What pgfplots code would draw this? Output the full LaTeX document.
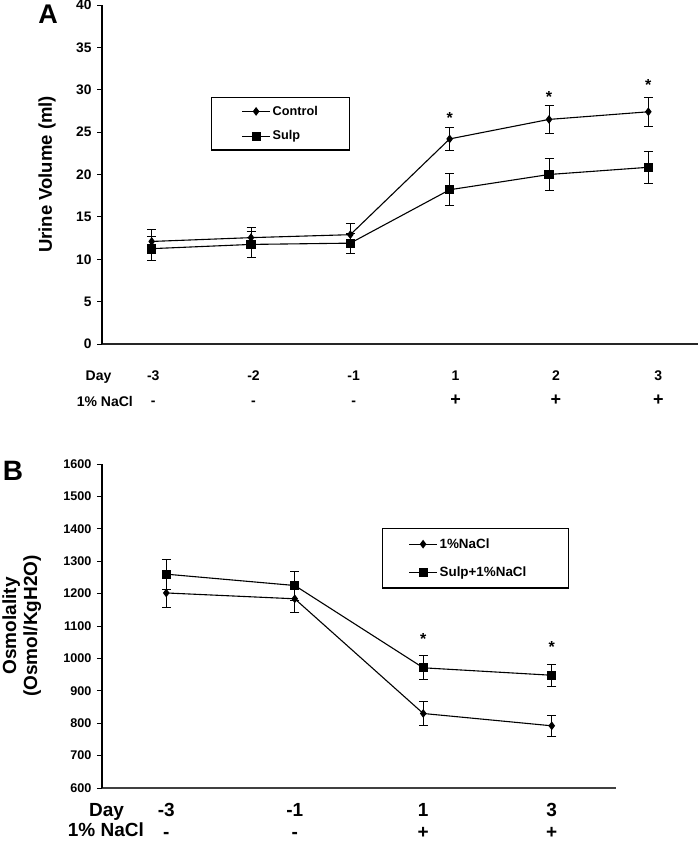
\documentclass[border=0pt]{standalone}
\usepackage{pgfplots}
\pgfplotsset{compat=1.18}
\usepackage{pgfplotstable}
\usepackage{fontspec}
\setmainfont{Liberation Sans}

% panel A: urine volume (ml), x = 0..5 for days -3,-2,-1,1,2,3
\pgfplotstableread{
x y e
0 12.10 1.40
1 12.55 1.20
2 12.90 1.30
3 24.20 1.40
4 26.50 1.70
5 27.40 1.75
}\ctrlA
\pgfplotstableread{
x y e
0 11.25 1.40
1 11.75 1.50
2 11.90 1.20
3 18.20 1.90
4 20.00 1.85
5 20.85 1.85
}\sulpA
% panel B: osmolality, x = 0..3 for days -3,-1,1,3
\pgfplotstableread{
x y e
0 1202 45
1 1184 43
2 830 37
3 792 33
}\naclB
\pgfplotstableread{
x y e
0 1260 47
1 1225 45
2 971 37
3 948 33
}\sulpB

\newcommand{\pl}{{\fontsize{18}{18}\selectfont +}}

\pgfplotsset{
  panel/.style={
    scale only axis,
    axis lines*=left,
    tick align=outside,
    major tick length=5pt,
    xtick style={draw=none},
    ytick style={black, line width=0.9pt},
    /pgf/number format/assume math mode=true,
    /pgf/number format/1000 sep={},
    clip=false,
    legend cell align=left,
    legend image code/.code={
      \draw[mark repeat=2,mark phase=2,##1] plot coordinates {(0pt,0pt) (14pt,0pt) (28pt,0pt)};},
  },
  ctrl/.style={black, line width=1.1pt, mark=diamond*, mark size=3.5pt, mark options={solid},
    error bars/y dir=both, error bars/y explicit,
    error bars/error bar style={line width=0.8pt},
    error bars/error mark options={rotate=90, mark size=4.5pt, line width=0.8pt}},
  sulp/.style={black, line width=1.1pt, mark=square*, mark size=4pt, mark options={solid},
    error bars/y dir=both, error bars/y explicit,
    error bars/error bar style={line width=0.8pt},
    error bars/error mark options={rotate=90, mark size=4.5pt, line width=0.8pt}},
}

\begin{document}
\begin{tikzpicture}
\useasboundingbox (0pt,0pt) rectangle (698pt,-842pt);

\begin{axis}[panel,
  at={(102pt,-344pt)}, anchor=south west,
  width=596pt, height=339pt,
  xmin=-0.5, xmax=5.5, ymin=0, ymax=40,
  ytick={0,5,...,40},
  xtick={0.016,1.025,2.034,3.06,4.07,5.1},
  xticklabels={{-3\\-},{-2\\-},{-1\\-},{1\\\pl},{2\\\pl},{3\\\pl}},
  xticklabel style={font=\fontsize{14}{25}\selectfont\bfseries, align=center, yshift=-18.5pt},
  yticklabel style={font=\fontsize{13.8}{16}\selectfont\bfseries, xshift=-2pt},
  x axis line style={line width=2pt, black!85},
  y axis line style={line width=1.3pt},
  ylabel={Urine Volume (ml)},
  ylabel style={font=\fontsize{18.5}{22}\selectfont\bfseries, at={(axis description cs:-0.0923,0.5)}, anchor=center},
  legend style={at={(0.1829,0.7286)}, anchor=north west, draw=black, line width=1.1pt,
    font=\fontsize{12.7}{15}\selectfont\bfseries, inner xsep=30pt, inner ysep=6.5pt, row sep=10pt},
]
\addplot[ctrl] table[x=x, y=y, y error=e] {\ctrlA};
\addlegendentry{Control}
\addplot[sulp] table[x=x, y=y, y error=e] {\sulpA};
\addlegendentry{Sulp}
\node[font=\fontsize{16}{18}\selectfont\bfseries] at (axis cs:3,26.65) {*};
\node[font=\fontsize{16}{18}\selectfont\bfseries] at (axis cs:4,29.15) {*};
\node[font=\fontsize{16}{18}\selectfont\bfseries] at (axis cs:5,30.6) {*};
\end{axis}

\begin{axis}[panel,
  at={(102pt,-788pt)}, anchor=south west,
  width=514pt, height=324pt,
  xmin=-0.5, xmax=3.5, ymin=600, ymax=1600,
  ytick={600,700,...,1600},
  xtick={0,...,3},
  xticklabels={{-3\\-},{-1\\-},{1\\+},{3\\+}},
  xticklabel style={font=\fontsize{19}{22}\selectfont\bfseries, align=center, inner ysep=0pt, yshift=-10pt},
  yticklabel style={font=\fontsize{12.6}{16}\selectfont\bfseries, xshift=-2pt},
  x axis line style={line width=1.2pt, black!75},
  y axis line style={line width=1.2pt},
  ylabel={Osmolality\\(Osmol/KgH2O)},
  ylabel style={font=\fontsize{19}{21}\selectfont\bfseries, align=center, at={(axis description cs:-0.156,0.5)}, anchor=center},
  legend style={at={(0.5447,0.8025)}, anchor=north west, draw=black, line width=1.1pt,
    font=\fontsize{13.4}{16}\selectfont\bfseries, inner xsep=26pt, inner ysep=8pt, row sep=13pt},
]
\addplot[ctrl] table[x=x, y=y, y error=e] {\naclB};
\addlegendentry{1\%NaCl}
\addplot[sulp] table[x=x, y=y, y error=e] {\sulpB};
\addlegendentry{Sulp+1\%NaCl\hspace*{14pt}}
\node[font=\fontsize{16}{18}\selectfont\bfseries] at (axis cs:2,1060) {*};
\node[font=\fontsize{16}{18}\selectfont\bfseries] at (axis cs:3,1034) {*};
\end{axis}

% row captions of the category table and panel letters
\node[anchor=base west, font=\fontsize{14}{16}\selectfont\bfseries, inner sep=0pt] at (85.5pt,-380pt) {Day};
\node[anchor=base west, font=\fontsize{14}{16}\selectfont\bfseries, inner sep=0pt] at (76.6pt,-406pt) {1\% NaCl};
\node[anchor=base west, font=\fontsize{19}{21}\selectfont\bfseries, inner sep=0pt] at (89pt,-816pt) {Day};
\node[anchor=base west, font=\fontsize{19}{21}\selectfont\bfseries, inner sep=0pt] at (67.7pt,-836pt) {1\% NaCl};
\node[font=\fontsize{27}{30}\selectfont\bfseries] at (48pt,-14pt) {A};
\node[font=\fontsize{28}{30}\selectfont\bfseries] at (13pt,-471pt) {B};
\end{tikzpicture}
\end{document}
